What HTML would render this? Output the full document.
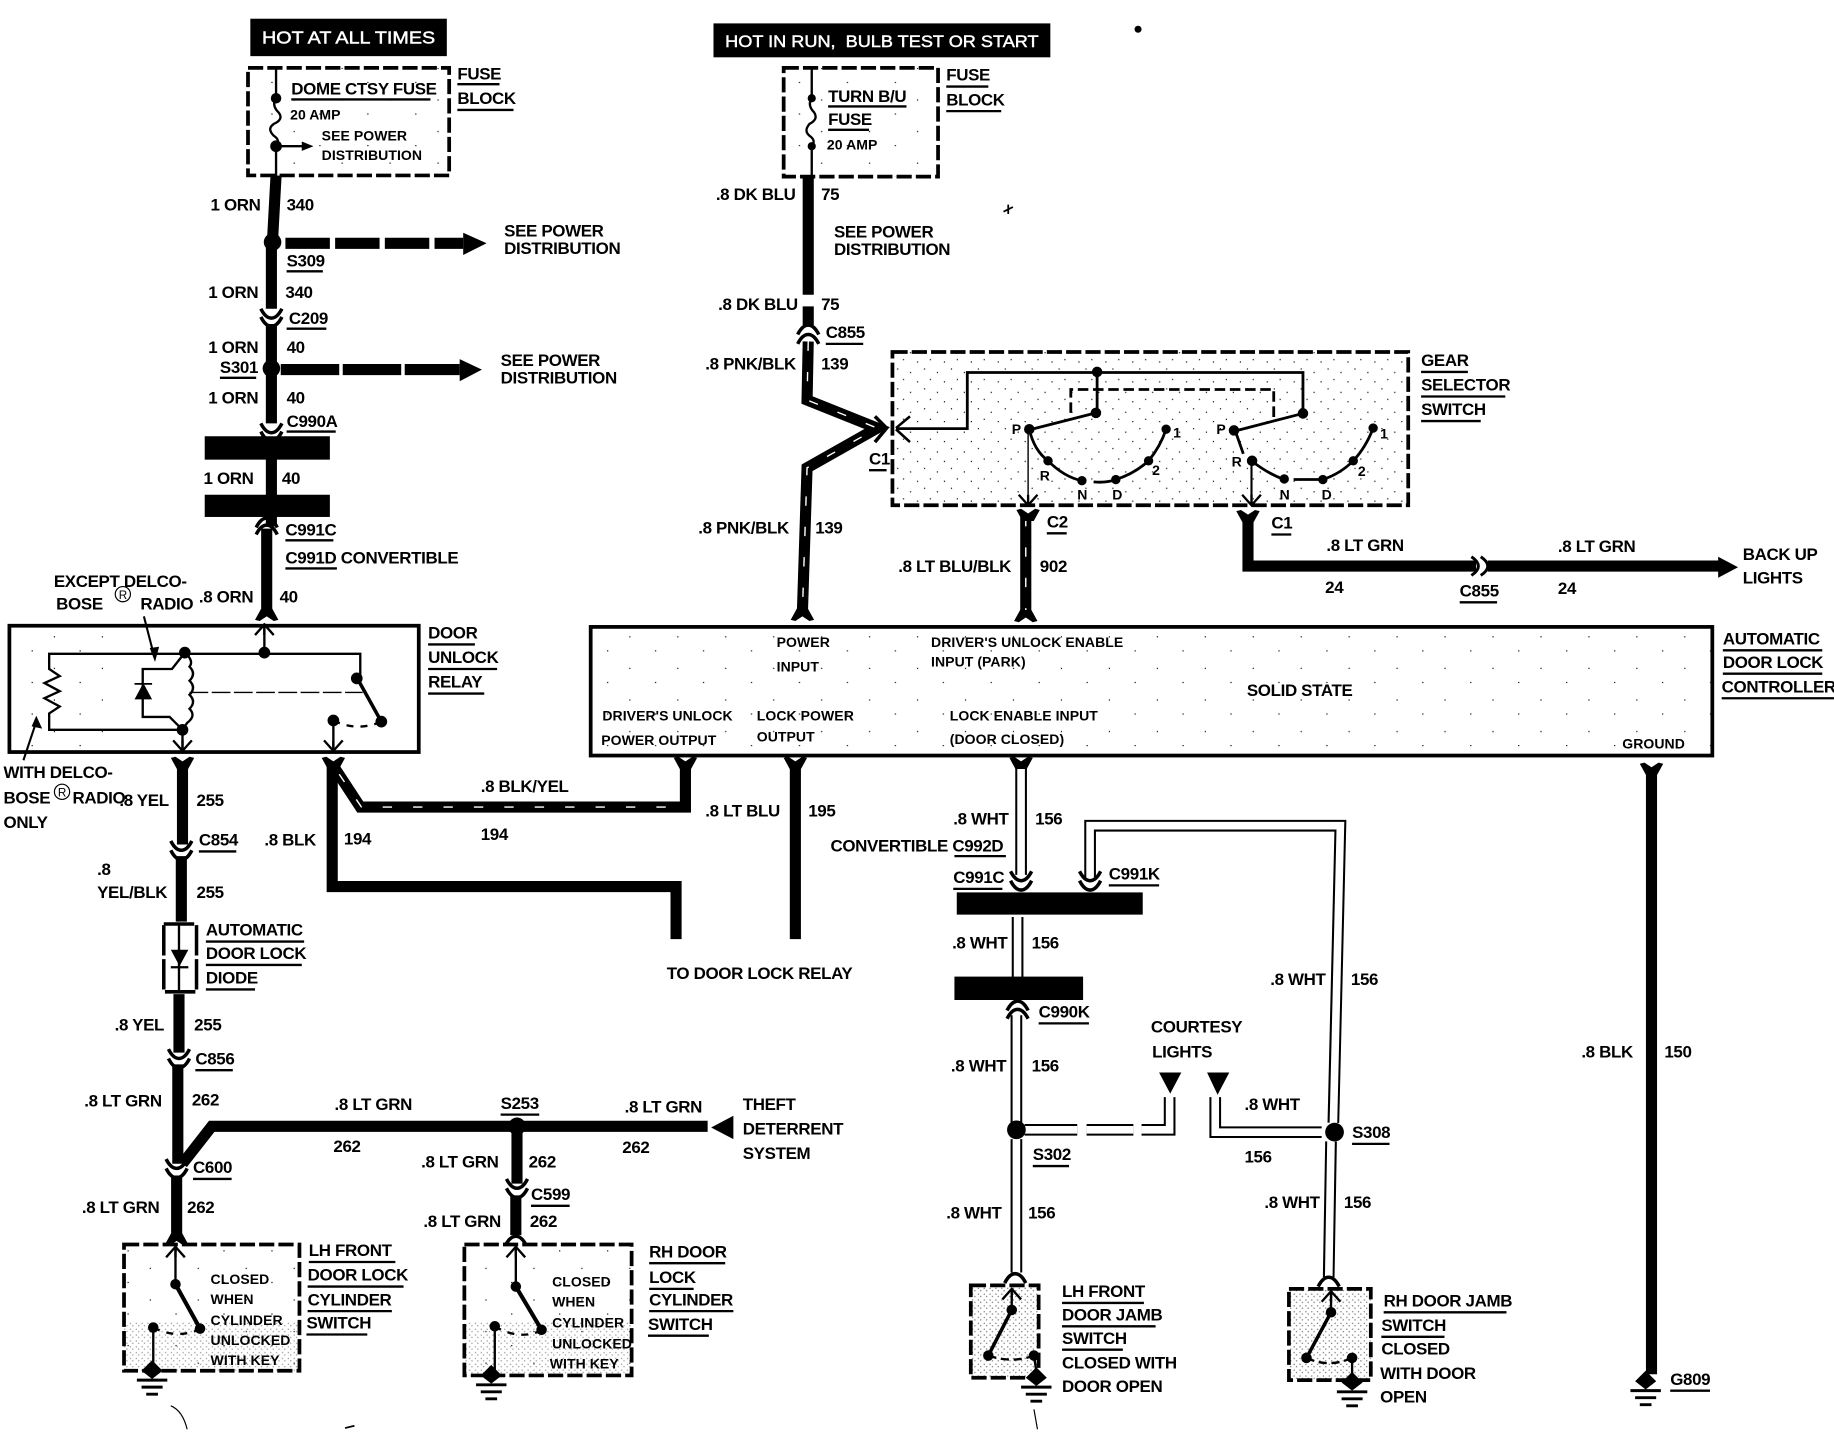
<!DOCTYPE html>
<html><head><meta charset="utf-8"><style>
html,body{margin:0;padding:0;background:#fff}
svg{display:block}
text{font-family:"Liberation Sans",sans-serif;font-weight:700;fill:#000;stroke:none}
.t text{font-size:14.5px;letter-spacing:-.3px}
.s text{font-size:12px;letter-spacing:.05px}
</style></head><body>
<svg xmlns="http://www.w3.org/2000/svg" width="1834" height="1440" viewBox="0 0 1568 1231.2">
<defs>
<pattern id="sp" width="23" height="17" patternUnits="userSpaceOnUse">
<rect x="2" y="3" width="1" height="1" fill="#000"/><rect x="13" y="1" width="1" height="1" fill="#000"/><rect x="8" y="9" width="1" height="1" fill="#000"/><rect x="19" y="12" width="1" height="1" fill="#000"/>
</pattern>
<pattern id="sl" width="41" height="27" patternUnits="userSpaceOnUse">
<rect x="5" y="4" width="1" height="1" fill="#000"/><rect x="27" y="16" width="1" height="1" fill="#000"/>
</pattern>
<pattern id="sd" width="5" height="5" patternUnits="userSpaceOnUse">
<rect x="1" y="1" width="1" height="1" fill="#000"/><rect x="3" y="3" width="1" height="1" fill="#000"/>
</pattern>
<path id="v" d="M-9-5Q-5 3 0 3Q5 3 9-5" fill="none" stroke="#000" stroke-width="3"/>
<path id="n" d="M-9 5Q-5-3 0-3Q5-3 9 5" fill="none" stroke="#000" stroke-width="3"/>
<path id="fy" d="M-10-5L-6-6L0-2L6-6L10-5L4.800 4.500H-4.800Z" fill="#000"/>
<path id="fl" d="M-10 5L-6 6L0 2L6 6L10 5L4.800-4.500H-4.800Z" fill="#000"/>
<path id="ar" d="M-8 9L0 0L8 9M0 0V9" fill="none" stroke="#000" stroke-width="2"/>
<path id="ad" d="M-8-9L0 0L8-9M0 0V-9" fill="none" stroke="#000" stroke-width="2"/>
<g id="gnd"><path d="M0-9L9 0L0 7L-9 0Z" fill="#000"/><path d="M-13 8H13M-9 14H9M-5 20H5" stroke="#000" stroke-width="2.500" fill="none"/></g>
</defs>

<!-- speckled box fills -->
<rect x="212" y="58" width="172" height="92" fill="url(#sl)"/>
<rect x="670" y="58" width="132" height="93" fill="url(#sl)"/>
<rect x="763" y="301" width="441" height="131" fill="url(#sp)"/>
<rect x="8" y="535" width="80" height="108" fill="url(#sl)"/>
<rect x="505" y="536" width="959" height="110" fill="url(#sl)"/>
<rect x="106" y="1064" width="150" height="108" fill="url(#sl)"/>
<rect x="106" y="1130" width="150" height="42" fill="url(#sd)" opacity=".45"/>
<rect x="397" y="1064" width="143" height="112" fill="url(#sl)"/>
<rect x="397" y="1130" width="143" height="46" fill="url(#sd)" opacity=".45"/>
<rect x="830" y="1099" width="58" height="79" fill="url(#sd)" opacity=".6"/>
<rect x="1102" y="1102" width="70" height="78" fill="url(#sd)" opacity=".6"/>

<!-- header bars -->
<rect x="214" y="16" width="168" height="32" fill="#000"/>
<rect x="610" y="20" width="288" height="29" fill="#000"/>

<!-- dashed boxes -->
<g fill="none" stroke="#000" stroke-width="3.200" stroke-dasharray="13 3.500">
<rect x="212" y="58" width="172" height="92"/>
<rect x="670" y="58" width="132" height="93"/>
<rect x="763" y="301" width="441" height="131"/>
<rect x="106" y="1064" width="150" height="108"/>
<rect x="397" y="1064" width="143" height="112"/>
<rect x="830" y="1099" width="58" height="79"/>
<rect x="1102" y="1102" width="70" height="78"/>
</g>
<!-- solid boxes -->
<g fill="none" stroke="#000" stroke-width="3.200">
<rect x="8" y="535" width="350" height="108"/>
<rect x="505" y="536" width="959" height="110"/>
</g>

<!-- thick black wires -->
<g fill="none" stroke="#000" stroke-width="9.500">
<path d="M236 150L233 205M232 212V264M232 277V362M232 375V450M228 452V524"/>
<path d="M156 652V722M155 732V788M153 850V900M152 910V995"/>
<path d="M156 995L181 963H605"/>
<path d="M151 1005V1058M442 963V1012M441 1022V1056"/>
<path d="M691 150V252M691 262V278"/>
<path d="M284 652V758H578V803M680 652V803M1412 658V1175"/>
<path d="M1067 442V484H1262M1272 484H1470"/>
<path d="M244 208H396" stroke-dasharray="38 4.500"/>
<path d="M240 316H393" stroke-dasharray="50 3"/>
</g>
<path d="M396 199L416 208L396 218ZM393 307L412 316L393 326ZM1469 476L1486 485L1469 494ZM627 954V974L608 964Z" fill="#000"/>
<rect x="175" y="373" width="107" height="20" fill="#000"/>
<rect x="175" y="423" width="107" height="19" fill="#000"/>
<circle cx="233" cy="207" r="7.500" fill="#000"/>
<circle cx="232" cy="315" r="7.500" fill="#000"/>
<circle cx="442" cy="963" r="7.500" fill="#000"/>

<!-- striped wires -->
<g fill="none" stroke="#000" stroke-width="9.500">
<path d="M691 292L690 342L750 366L690 400L686 524"/>
<path d="M877 442V528"/>
<path d="M285 655L308 690H586V654"/>
</g>
<g fill="none" stroke="#fff" stroke-width="1.200" stroke-dasharray="8 18">
<path d="M691 292L690 342L750 366L690 400L686 524"/>
<path d="M877 442V528"/>
<path d="M290 662L309 690H584"/>
</g>

<!-- white wires -->
<g fill="none" stroke="#000" stroke-width="10">
<path d="M873 654V748M870 784V836M869 868V960M869 974V1088"/>
<path d="M932 752V706H1146L1140 960M1138 976L1136 1092"/>
<path d="M876 966H921M929 966H969M976 966H1000V938"/>
<path d="M1039 938V968H1130"/>
</g>
<g fill="none" stroke="#fff" stroke-width="6.500">
<path d="M873 652V752M870 782V838M869 866V962M869 972V1090"/>
<path d="M932 754V706H1146L1140 962M1138 974L1136 1094"/>
<path d="M874 966H921M929 966H969M976 966H1000V936"/>
<path d="M1039 936V968H1132"/>
</g>
<rect x="818" y="763" width="159" height="19" fill="#000"/>
<rect x="816" y="835" width="110" height="20" fill="#000"/>
<circle cx="869" cy="966" r="8" fill="#000"/>
<circle cx="1141" cy="968" r="8" fill="#000"/>
<path d="M991 917H1010L1000.500 935ZM1032 917H1051L1041 936Z" fill="#000"/>

<!-- connector flares -->
<use href="#v" x="232" y="269"/><use href="#v" x="232" y="276"/>
<use href="#v" x="232" y="367"/><use href="#v" x="232" y="374"/>
<use href="#n" x="228" y="446"/><use href="#n" x="228" y="452"/>
<use href="#fl" x="228" y="525"/>
<use href="#fy" x="156" y="653"/><use href="#fy" x="285" y="653"/>
<use href="#v" x="155" y="724"/><use href="#v" x="155" y="732"/>
<use href="#v" x="153" y="902"/><use href="#v" x="153" y="910"/>
<use href="#v" x="151" y="996"/><use href="#v" x="151" y="1004"/>
<use href="#fl" x="151" y="1059"/><use href="#n" x="441" y="1060"/>
<use href="#v" x="442" y="1013"/><use href="#v" x="442" y="1021"/>
<use href="#n" x="691" y="281"/><use href="#n" x="691" y="289"/>
<use href="#fl" x="686" y="525"/><use href="#fl" x="877" y="526"/>
<use href="#fy" x="586" y="653"/><use href="#fy" x="680" y="653"/><use href="#fy" x="873" y="653"/>
<use href="#fy" x="1412" y="658"/>
<use href="#fy" x="879" y="441"/><use href="#fy" x="1067" y="442"/>
<use href="#v" x="873" y="750"/><use href="#v" x="873" y="758"/>
<use href="#v" x="932" y="750"/><use href="#v" x="932" y="758"/>
<use href="#n" x="870" y="859"/><use href="#n" x="870" y="866"/>
<use href="#n" x="868" y="1092"/><use href="#n" x="1136" y="1095"/>
<path d="M1258 476Q1270 484 1258 492M1266 476Q1278 484 1266 492" fill="none" stroke="#000" stroke-width="2.500"/>
<path d="M748 356L758 366L748 378" fill="none" stroke="#000" stroke-width="3"/>

<!-- fuse block internals -->
<g fill="none" stroke="#000" stroke-width="2">
<path d="M236 58V84Q232 90 238 96Q243 102 234 106Q228 110 234 116Q240 120 236 124V150"/>
<path d="M236 125H262"/>
<path d="M694 58V84Q690 90 696 96Q700 102 692 106Q687 112 692 116Q698 120 694 125V150"/>
</g>
<circle cx="236" cy="84" r="4.500"/><circle cx="236" cy="125" r="5"/>
<path d="M258 121L268 125L258 129Z"/>
<circle cx="694" cy="84" r="3.500"/><circle cx="694" cy="125" r="3.500"/>

<!-- relay internals -->
<g fill="none" stroke="#000" stroke-width="2">
<path d="M308 581V559H42V572L51 578L38 584L51 591L38 597L51 604L42 610V624H156"/>
<path d="M158 558L147 572H122V613H145L156 624"/>
<path d="M158 558Q166 565 162 570Q168 576 162 582Q168 588 162 594Q168 600 162 606Q168 612 160 618L156 624"/>
<path d="M226 533V558"/>
<path d="M306 581L326 617" stroke-width="3"/>
<path d="M156 624V640M285 616V640"/>
<path d="M285 616Q305 626 326 617" stroke-dasharray="6 6"/>
<path d="M123 527L131 558" stroke-width="1.800"/>
<path d="M20 650L30 620" stroke-width="1.800"/>
</g>
<path d="M128 554L132.500 566L136 553ZM27 621L31 612L36 623Z"/>
<path d="M162 592H310" fill="none" stroke="#000" stroke-width="1.200" stroke-dasharray="16 3"/>
<circle cx="158" cy="558" r="5"/><circle cx="226" cy="558" r="5"/><circle cx="156" cy="624" r="5"/>
<circle cx="305" cy="580" r="5"/><circle cx="326" cy="617" r="5"/><circle cx="285" cy="616" r="5"/>
<path d="M115 598H130L122.500 584ZM115 584H130V585.500H115Z"/>
<use href="#ar" x="226" y="534"/><use href="#ad" x="156" y="642"/><use href="#ad" x="285" y="642"/>

<!-- diode -->
<rect x="140" y="790" width="28" height="58" fill="#fff" stroke="#000" stroke-width="3" stroke-dasharray="26 3"/>
<path d="M153 790V848" stroke="#000" stroke-width="2"/>
<path d="M146 812H161L153.500 826ZM146 826H161V828H146Z"/>

<!-- gear switch -->
<g fill="none" stroke="#000" stroke-width="2.400">
<path d="M766 366.500H827V318.500H1114V353.500M938 318V353"/>
<path d="M937 353L882 367M1114 353.500L1058 368"/>
<path d="M880 367Q884 385 896 394Q910 408 925 411M935 412Q946 413 954 410Q970 405 982 394Q992 382 997 367"/>
<path d="M1056 368L1063 388M1070 394Q1084 405 1098 410M1106 410H1131Q1146 405 1157 394Q1168 382 1174 366"/>
<path d="M879 367V430" stroke-width="1.200"/><path d="M1070 394V430" stroke-width="1.800"/>
<path d="M915.500 353V333H1089V359" stroke-dasharray="9 4"/>
</g>
<g><circle cx="938" cy="318" r="4.500"/><circle cx="937" cy="353" r="4.500"/><circle cx="1114" cy="353.500" r="4.500"/>
<circle cx="880" cy="367" r="4.500"/><circle cx="896" cy="394" r="4"/><circle cx="925" cy="411" r="4"/><circle cx="954" cy="410" r="4"/><circle cx="982" cy="394" r="4"/><circle cx="997" cy="367" r="4"/>
<circle cx="1055" cy="368" r="4.500"/><circle cx="1070.500" cy="394" r="4.500"/><circle cx="1098" cy="409.500" r="4"/><circle cx="1131" cy="410" r="4"/><circle cx="1157" cy="394" r="4"/><circle cx="1174" cy="366" r="4"/></g>
<path d="M766 366L778 356M766 367L778 378" stroke="#000" stroke-width="2.200" fill="none"/>
<use href="#ad" x="879" y="432"/><use href="#ad" x="1070" y="432"/>

<!-- door switches -->
<g fill="none" stroke="#000" stroke-width="2">
<path d="M150 1068V1098"/><path d="M150 1098L171 1136" stroke-width="3.500"/>
<path d="M131 1135V1170"/><path d="M131 1135Q150 1145 170 1137" stroke-dasharray="6 6"/>
<path d="M441 1068V1100"/><path d="M441 1100L463 1137" stroke-width="3.500"/>
<path d="M423 1134V1172"/><path d="M423 1134Q443 1146 462 1138" stroke-dasharray="6 6"/>
<path d="M865 1102V1120"/><path d="M865 1120L845 1159" stroke-width="3"/>
<path d="M845 1159Q865 1166 884 1159" stroke-dasharray="7 4"/><path d="M884 1159L886 1172"/>
<path d="M1138 1104V1122"/><path d="M1138 1122L1117 1161" stroke-width="3"/>
<path d="M1117 1161Q1136 1170 1156 1161" stroke-dasharray="7 4"/><path d="M1156 1161V1176"/>
</g>
<circle cx="150" cy="1098" r="4.500"/><circle cx="171" cy="1136" r="4.500"/><circle cx="131" cy="1135" r="4.500"/>
<circle cx="441" cy="1100" r="4.500"/><circle cx="463" cy="1137" r="4.500"/><circle cx="423" cy="1134" r="4.500"/>
<circle cx="865" cy="1120" r="4.500"/><circle cx="845" cy="1159" r="4.500"/><circle cx="884" cy="1159" r="4.500"/>
<circle cx="1138" cy="1122" r="4.500"/><circle cx="1117" cy="1161" r="4.500"/><circle cx="1156" cy="1161" r="4.500"/>
<use href="#ar" x="150" y="1066"/><use href="#ar" x="441" y="1066"/><use href="#ar" x="865" y="1102"/><use href="#ar" x="1138" y="1104"/>
<use href="#gnd" x="130" y="1172"/><use href="#gnd" x="420" y="1176"/><use href="#gnd" x="886" y="1178"/><use href="#gnd" x="1156" y="1182"/><use href="#gnd" x="1407" y="1181"/>

<!-- specks -->
<circle cx="973" cy="25" r="3"/>
<path d="M858 181L866 177M862 175V183" stroke="#000" stroke-width="1.500" fill="none"/>
<path d="M146 1202Q156 1206 160 1222M884 1205L887 1222" stroke="#000" stroke-width="1" fill="none"/>
<path d="M295 1221L303 1219" stroke="#000" stroke-width="1.500"/>

<!-- label underlines -->
<path fill="none" stroke="#000" stroke-width="2" d="M391 72H427M391 94H439M249 85H368M809 74H845M809 95H856M708 91H775M708 111H743M245 232H276M245 281H279M188 323H219M245 369H287M244 462H285M244 486H288M366 551H406M366 572H425M366 593H414M170 728H202M176 805H260M176 825H258M176 846H218M167 915H199M428 953H461M165 1008H198M454 1031H487M264 1079H338M263 1100H345M263 1121H335M262 1141H314M555 1080H620M555 1102H593M555 1121H627M554 1142H606M706 294H738M1215 318H1255M1215 339H1287M1215 360H1266M743 402H758M895 456H912M1087 457H1104M1248 515H1280M1473 556H1558M1473 576H1558M1472 597H1568M816 732H860M815 760H857M948 757H991M888 875H931M1156 978H1188M883 997H914M908 1114H978M908 1134H988M908 1154H960M1183 1122H1288M1181 1143H1235M1428 1189H1462"/>

<!-- white header text -->
<text x="224" y="37" style="font-size:15px;font-weight:400;fill:#fff;stroke:#fff;stroke-width:.4px" textLength="148" lengthAdjust="spacingAndGlyphs">HOT AT ALL TIMES</text>
<text x="620" y="40" style="font-size:14.500px;font-weight:400;fill:#fff;stroke:#fff;stroke-width:.4px;white-space:pre" xml:space="preserve" textLength="268" lengthAdjust="spacingAndGlyphs">HOT IN RUN,  BULB TEST OR START</text>

<!-- main labels -->
<g class="t">
<text x="391" y="68">FUSE</text><text x="391" y="89">BLOCK</text>
<text x="249" y="81">DOME CTSY FUSE</text>
<text x="180" y="180">1 ORN</text><text x="245" y="180">340</text>
<text x="431" y="202">SEE POWER</text><text x="431" y="217">DISTRIBUTION</text>
<text x="245" y="228">S309</text>
<text x="178" y="255">1 ORN</text><text x="244" y="255">340</text>
<text x="247" y="277">C209</text>
<text x="178" y="302">1 ORN</text><text x="245" y="302">40</text>
<text x="188" y="319">S301</text>
<text x="178" y="345">1 ORN</text><text x="245" y="345">40</text>
<text x="428" y="313">SEE POWER</text><text x="428" y="328">DISTRIBUTION</text>
<text x="245" y="365">C990A</text>
<text x="174" y="414">1 ORN</text><text x="241" y="414">40</text>
<text x="244" y="458">C991C</text>
<text x="244" y="482">C991D CONVERTIBLE</text>
<text x="170" y="515">.8 ORN</text><text x="239" y="515">40</text>
<text x="46" y="502">EXCEPT DELCO-</text>
<text x="48" y="521">BOSE</text><text x="120" y="521">RADIO</text>
<text x="366" y="546">DOOR</text><text x="366" y="567">UNLOCK</text><text x="366" y="588">RELAY</text>
<text x="3" y="665">WITH DELCO-</text><text x="3" y="687">BOSE</text><text x="62" y="687">RADIO</text><text x="3" y="708">ONLY</text>
<text x="102" y="689">.8 YEL</text><text x="168" y="689">255</text>
<text x="170" y="723">C854</text>
<text x="83" y="748">.8</text><text x="83" y="768">YEL/BLK</text><text x="168" y="768">255</text>
<text x="226" y="723">.8 BLK</text><text x="294" y="722">194</text>
<text x="411" y="677">.8 BLK/YEL</text><text x="411" y="718">194</text>
<text x="603" y="698">.8 LT BLU</text><text x="691" y="698">195</text>
<text x="570" y="837">TO DOOR LOCK RELAY</text>
<text x="176" y="800">AUTOMATIC</text><text x="176" y="820">DOOR LOCK</text><text x="176" y="841">DIODE</text>
<text x="98" y="881">.8 YEL</text><text x="166" y="881">255</text>
<text x="167" y="910">C856</text>
<text x="72" y="946">.8 LT GRN</text><text x="164" y="945">262</text>
<text x="286" y="949">.8 LT GRN</text><text x="285" y="985">262</text>
<text x="428" y="948">S253</text>
<text x="534" y="951">.8 LT GRN</text><text x="532" y="986">262</text>
<text x="635" y="949">THEFT</text><text x="635" y="970">DETERRENT</text><text x="635" y="991">SYSTEM</text>
<text x="165" y="1003">C600</text>
<text x="360" y="998">.8 LT GRN</text><text x="452" y="998">262</text>
<text x="454" y="1026">C599</text>
<text x="362" y="1049">.8 LT GRN</text><text x="453" y="1049">262</text>
<text x="70" y="1037">.8 LT GRN</text><text x="160" y="1037">262</text>
<text x="264" y="1074">LH FRONT</text><text x="263" y="1095">DOOR LOCK</text><text x="263" y="1116">CYLINDER</text><text x="262" y="1136">SWITCH</text>
<text x="555" y="1075">RH DOOR</text><text x="555" y="1097">LOCK</text><text x="555" y="1116">CYLINDER</text><text x="554" y="1137">SWITCH</text>
<text x="809" y="69">FUSE</text><text x="809" y="90">BLOCK</text>
<text x="708" y="87">TURN B/U</text><text x="708" y="107">FUSE</text>
<text x="612" y="171">.8 DK BLU</text><text x="702" y="171">75</text>
<text x="713" y="203">SEE POWER</text><text x="713" y="218">DISTRIBUTION</text>
<text x="614" y="265">.8 DK BLU</text><text x="702" y="265">75</text>
<text x="706" y="289">C855</text>
<text x="603" y="316">.8 PNK/BLK</text><text x="702" y="316">139</text>
<text x="743" y="397">C1</text>
<text x="597" y="456">.8 PNK/BLK</text><text x="697" y="456">139</text>
<text x="1215" y="313">GEAR</text><text x="1215" y="334">SELECTOR</text><text x="1215" y="355">SWITCH</text>
<text x="895" y="451">C2</text><text x="1087" y="452">C1</text>
<text x="768" y="489">.8 LT BLU/BLK</text><text x="889" y="489">902</text>
<text x="1134" y="471">.8 LT GRN</text><text x="1133" y="507">24</text>
<text x="1248" y="510">C855</text>
<text x="1332" y="472">.8 LT GRN</text><text x="1332" y="508">24</text>
<text x="1490" y="479">BACK UP</text><text x="1490" y="499">LIGHTS</text>
<text x="1473" y="551">AUTOMATIC</text><text x="1473" y="571">DOOR LOCK</text><text x="1472" y="592">CONTROLLER</text>
<text x="1066" y="595">SOLID STATE</text>
<text x="815" y="705">.8 WHT</text><text x="885" y="705">156</text>
<text x="710" y="728">CONVERTIBLE C992D</text>
<text x="815" y="755">C991C</text><text x="948" y="752">C991K</text>
<text x="814" y="811">.8 WHT</text><text x="882" y="811">156</text>
<text x="888" y="870">C990K</text>
<text x="813" y="916">.8 WHT</text><text x="882" y="916">156</text>
<text x="984" y="883">COURTESY</text><text x="985" y="904">LIGHTS</text>
<text x="1086" y="842">.8 WHT</text><text x="1155" y="842">156</text>
<text x="1064" y="949">.8 WHT</text><text x="1064" y="994">156</text>
<text x="1156" y="973">S308</text><text x="883" y="992">S302</text>
<text x="809" y="1042">.8 WHT</text><text x="879" y="1042">156</text>
<text x="1081" y="1033">.8 WHT</text><text x="1149" y="1033">156</text>
<text x="1352" y="904">.8 BLK</text><text x="1423" y="904">150</text>
<text x="1428" y="1184">G809</text>
<text x="908" y="1109">LH FRONT</text><text x="908" y="1129">DOOR JAMB</text><text x="908" y="1149">SWITCH</text><text x="908" y="1170">CLOSED WITH</text><text x="908" y="1190">DOOR OPEN</text>
<text x="1183" y="1117">RH DOOR JAMB</text><text x="1181" y="1138">SWITCH</text><text x="1181" y="1158">CLOSED</text><text x="1180" y="1179">WITH DOOR</text><text x="1180" y="1199">OPEN</text>
</g>

<!-- small labels -->
<g class="s">
<text x="248" y="102">20 AMP</text><text x="275" y="120">SEE POWER</text><text x="275" y="137">DISTRIBUTION</text>
<text x="707" y="128">20 AMP</text>
<text x="664" y="553">POWER</text><text x="664" y="574">INPUT</text>
<text x="796" y="553">DRIVER'S UNLOCK ENABLE</text><text x="796" y="570">INPUT (PARK)</text>
<text x="515" y="616">DRIVER'S UNLOCK</text><text x="514" y="637">POWER OUTPUT</text>
<text x="647" y="616">LOCK POWER</text><text x="647" y="634">OUTPUT</text>
<text x="812" y="616">LOCK ENABLE INPUT</text><text x="812" y="636">(DOOR CLOSED)</text>
<text x="1387" y="640">GROUND</text>
<text x="180" y="1098">CLOSED</text><text x="180" y="1115">WHEN</text><text x="180" y="1133">CYLINDER</text><text x="180" y="1150">UNLOCKED</text><text x="180" y="1167">WITH KEY</text>
<text x="472" y="1100">CLOSED</text><text x="472" y="1117">WHEN</text><text x="472" y="1135">CYLINDER</text><text x="472" y="1153">UNLOCKED</text><text x="470" y="1170">WITH KEY</text>
<text x="865" y="371">P</text><text x="1040" y="371">P</text><text x="1003" y="374">1</text><text x="1180" y="375">1</text>
<text x="889" y="411">R</text><text x="1053" y="399">R</text><text x="921" y="427">N</text><text x="951" y="427">D</text><text x="1094" y="427">N</text><text x="1130" y="427">D</text><text x="985" y="406">2</text><text x="1161" y="407">2</text>
</g>
<circle cx="105" cy="508" r="6.500" fill="none" stroke="#000" stroke-width="1"/><text x="101.500" y="512" style="font-size:10px;font-weight:400">R</text>
<circle cx="53" cy="677" r="6.500" fill="none" stroke="#000" stroke-width="1"/><text x="49.500" y="681" style="font-size:10px;font-weight:400">R</text>
</svg>
</body></html>
